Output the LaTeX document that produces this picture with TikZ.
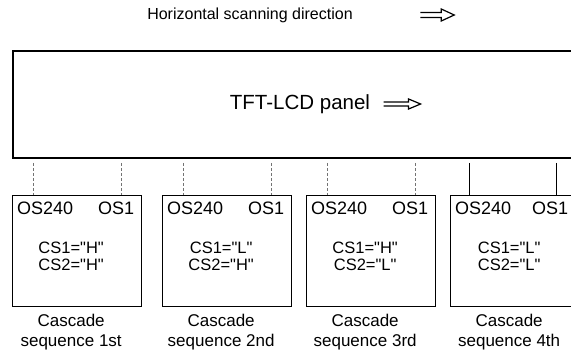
\documentclass[tikz,border=0pt]{standalone}
\usepackage{fontspec}
\setmainfont{Liberation Sans}[Ligatures=TeXOff]
\usetikzlibrary{positioning}

\begin{document}
\begin{tikzpicture}[x=1pt,y=-1pt,
	cascbox/.style={draw,line width=1.3pt,minimum width=129pt,minimum height=111pt,anchor=north west,inner sep=0pt},
	ostext/.style={font=\fontsize{18}{18}\selectfont,inner sep=0pt},
	cstext/.style={font=\fontsize{16.5}{16.5}\selectfont,align=center,inner sep=0pt},
	seqtext/.style={font=\fontsize{17}{20}\selectfont,align=center,inner sep=0pt,anchor=north},
	tapfaint/.style={line width=0.5pt,densely dashed,black!55},
	tapsolid/.style={line width=0.8pt},
	hollowarrow/.style={line width=1.2pt,line join=miter}]
					\useasboundingbox (0,0) rectangle (571,355);
					\clip (0,0) rectangle (571,355);
					
					% panel
					\node[draw,line width=2pt,minimum width=600pt,minimum height=107pt,anchor=north west] (panel) at (12,50) {};
					\node[font=\fontsize{20.5}{20.5}\selectfont] (paneltext) at (300,104) {TFT-LCD panel};
					\coordinate (panelA) at ([xshift=10pt]paneltext.east);
					\draw[hollowarrow] (panelA) ++(0,-2) -- ++(25,0) -- ++(0,-3) -- ++(12,5) -- ++(-12,5) -- ++(0,-3) -- ++(-25,0);
					
					\node[font=\fontsize{16}{16}\selectfont] (scandir) at (250,15) {Horizontal scanning direction};
					\coordinate (scanA) at ([xshift=64pt]scandir.east);
					\draw[hollowarrow] (scanA) ++(0,-2.5) -- ++(21,0) -- ++(0,-3.5) -- ++(13,6) -- ++(-13,6) -- ++(0,-3.5) -- ++(-21,0);
					
					% cascade boxes
					\node[cascbox] (box1) at (12,195) {};
					\node[cascbox] (box2) at (162,195) {};
					\node[cascbox] (box3) at (306,195) {};
					\node[cascbox] (box4) at (450,195) {};
					
					\node[ostext,anchor=west] (os240a) at ([xshift=5pt,yshift=-13pt]box1.north west) {OS240};
					\node[ostext,anchor=east] (os1a) at ([xshift=-8pt,yshift=-13pt]box1.north east) {OS1};
					\node[ostext,anchor=west] (os240b) at ([xshift=5pt,yshift=-13pt]box2.north west) {OS240};
					\node[ostext,anchor=east] (os1b) at ([xshift=-8pt,yshift=-13pt]box2.north east) {OS1};
					\node[ostext,anchor=west] (os240c) at ([xshift=5pt,yshift=-13pt]box3.north west) {OS240};
					\node[ostext,anchor=east] (os1c) at ([xshift=-8pt,yshift=-13pt]box3.north east) {OS1};
					\node[ostext,anchor=west] (os240d) at ([xshift=5pt,yshift=-13pt]box4.north west) {OS240};
					\node[ostext,anchor=east] (os1d) at ([xshift=-12pt,yshift=-13pt]box4.north east) {OS1};
					
					\node[cstext] (csa) at ([xshift=-6pt,yshift=-5pt]box1.center) {CS1="H"\\CS2="H"};
					\node[cstext] (csb) at ([xshift=-6pt,yshift=-5pt]box2.center) {CS1="L"\\CS2="H"};
					\node[cstext] (csc) at ([xshift=-6pt,yshift=-5pt]box3.center) {CS1="H"\\CS2="L"};
					\node[cstext] (csd) at ([xshift=-6pt,yshift=-5pt]box4.center) {CS1="L"\\CS2="L"};
					
					% labels
					\node[seqtext] (seqa) at ([xshift=-6pt,yshift=-7pt]box1.south) {Cascade\\sequence 1st};
					\node[seqtext] (seqb) at ([xshift=-6pt,yshift=-7pt]box2.south) {Cascade\\sequence 2nd};
					\node[seqtext] (seqc) at ([xshift=-6pt,yshift=-7pt]box3.south) {Cascade\\sequence 3rd};
					\node[seqtext] (seqd) at ([xshift=-6pt,yshift=-7pt]box4.south) {Cascade\\sequence 4th};
					
					% taps from the panel
					\coordinate (tap1a) at ([xshift=21pt]box1.north west);
					\coordinate (tap1b) at ([xshift=-21pt]box1.north east);
					\coordinate (tap2a) at ([xshift=21pt]box2.north west);
					\coordinate (tap2b) at ([xshift=-21pt]box2.north east);
					\coordinate (tap3a) at ([xshift=21pt]box3.north west);
					\coordinate (tap3b) at ([xshift=-21pt]box3.north east);
					\coordinate (tap4a) at ([xshift=19pt]box4.north west);
					\coordinate (tap4b) at ([xshift=-24pt]box4.north east);
					\draw[tapfaint] ([yshift=-4pt]tap1a |- panel.south) -- (tap1a);
					\draw[tapfaint] ([yshift=-4pt]tap1b |- panel.south) -- (tap1b);
					\draw[tapfaint] ([yshift=-4pt]tap2a |- panel.south) -- (tap2a);
					\draw[tapfaint] ([yshift=-4pt]tap2b |- panel.south) -- (tap2b);
					\draw[tapfaint] ([yshift=-4pt]tap3a |- panel.south) -- (tap3a);
					\draw[tapfaint] ([yshift=-4pt]tap3b |- panel.south) -- (tap3b);
					\draw[tapsolid] ([yshift=-4pt]tap4a |- panel.south) -- (tap4a);
					\draw[tapsolid] ([yshift=-4pt]tap4b |- panel.south) -- (tap4b);
				\end{tikzpicture}
\end{document}
